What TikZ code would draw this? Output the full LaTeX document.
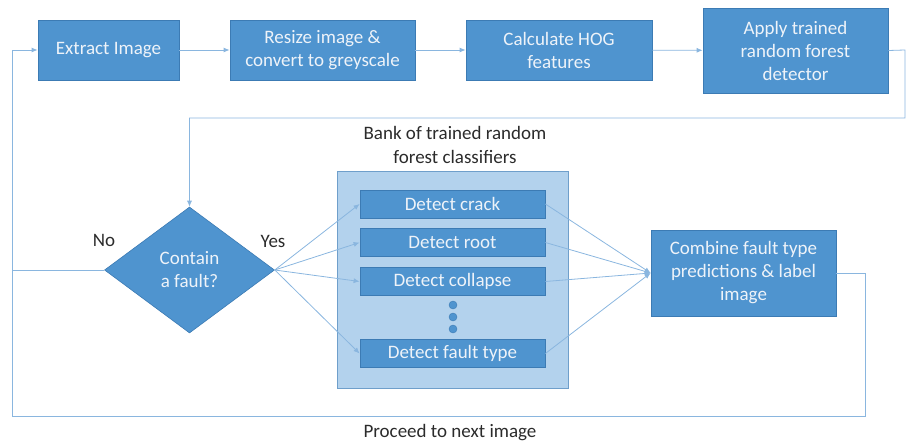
\documentclass[tikz,border=0pt]{standalone}
\usepackage{fontspec}
\setmainfont{Carlito}
\usetikzlibrary{shapes.geometric,arrows.meta}
\definecolor{boxfill}{HTML}{4F94CF}
\definecolor{boxline}{HTML}{3C7BB4}
\definecolor{bankfill}{HTML}{B3D2ED}
\definecolor{bankline}{HTML}{6F9FCB}
\definecolor{conn}{HTML}{8AB6DF}
\definecolor{txt}{HTML}{EEF3F9}
\definecolor{lbl}{HTML}{2B2B2B}
\begin{document}
\begin{tikzpicture}[x=1pt,y=-1pt,
  proc/.style={draw=boxline,fill=boxfill,line width=0.8pt,text=txt,align=center,
    font=\fontsize{19}{23}\selectfont,inner sep=0pt},
  sub/.style={proc,minimum width=185pt,minimum height=28pt},
  bank/.style={draw=bankline,fill=bankfill,line width=0.8pt,inner sep=0pt},
  dec/.style={diamond,draw=boxline,fill=boxfill,line width=0.6pt,text=txt,align=center,
    font=\fontsize{19}{23}\selectfont,inner sep=0pt,minimum width=170pt,minimum height=126pt},
  lab/.style={text=lbl,align=center,font=\fontsize{19}{24}\selectfont,inner sep=0pt},
  conn/.style={draw=conn,line width=0.8pt},
  arr/.style={conn,-{Latex[length=6pt,width=5pt]}},
  dot/.style={circle,draw=boxline,fill=boxfill,minimum size=8pt,inner sep=0pt}
]
\useasboundingbox (0,0) rectangle (907,446);

% top row
\node[proc,minimum width=141pt,minimum height=60pt] (extract) at (108.5,50) {Extract Image};
\node[proc,minimum width=185pt,minimum height=60pt] (resize) at (322.5,50) {Resize image \&\\convert to greyscale};
\node[proc,minimum width=186pt,minimum height=60pt] (hog) at (559,50) {Calculate HOG\\features};
\node[proc,minimum width=185pt,minimum height=85pt] (apply) at (795.5,50.5) {Apply trained\\random forest\\detector};

% bank
\node[bank,minimum width=231pt,minimum height=217pt] (bank) at (452.5,280) {};
\node[lab] (banklbl) at (455,145) {Bank of trained random\\forest classifiers};
\node[sub] (crack) at (452.5,204) {Detect crack};
\node[sub] (root) at (452.5,242.5) {Detect root};
\node[sub] (collapse) at (452.5,281.5) {Detect collapse};
\node[sub] (ftype) at (452.5,353.5) {Detect fault type};
\node[dot] (d1) at (453,305) {};
\node[dot] (d2) at (453,317) {};
\node[dot] (d3) at (453,329) {};

% decision
\node[dec] (fault) at (189.5,270) {Contain\\a fault?};
\node[lab] (no) at (104,240) {No};
\node[lab] (yes) at (273,241) {Yes};

% combine
\node[proc,minimum width=185pt,minimum height=86pt] (combine) at (743.5,273) {Combine fault type\\predictions \& label\\image};

\node[lab] (proceed) at (450,433) {Proceed to next image};

% coordinates
\coordinate (j) at (12,270);
\coordinate (tr) at (905,50);
\coordinate (tr2) at (905,118);
\coordinate (br) at (865,273);
\coordinate (bl) at (12,416);

% connectors
\draw[arr] (extract) -- (resize);
\draw[arr] (resize) -- (hog);
\draw[arr] (hog) -- (apply);
\draw[arr] (apply.east) -- (tr) -- (tr2) -| (fault.north);
\draw[conn] (fault.west) -- (j);
\draw[arr] (j) |- (extract.west);
\draw[conn] (combine.east) -- (br) |- (bl) -- (j);

\draw[arr] (fault.east) -- (crack.west);
\draw[arr] (fault.east) -- (root.west);
\draw[arr] (fault.east) -- (collapse.west);
\draw[arr] (fault.east) -- (ftype.west);

\draw[arr] (crack.east) -- (combine.west);
\draw[arr] (root.east) -- (combine.west);
\draw[arr] (collapse.east) -- (combine.west);
\draw[arr] (ftype.east) -- (combine.west);
\end{tikzpicture}
\end{document}
